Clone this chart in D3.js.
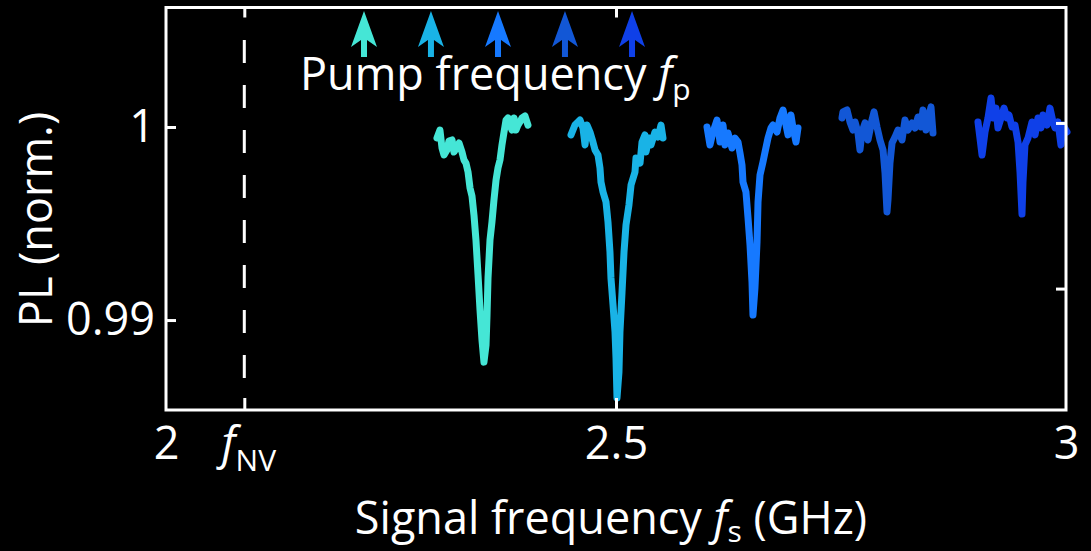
<!DOCTYPE html>
<html>
<head>
<meta charset="utf-8">
<script src="https://cdn.jsdelivr.net/npm/d3@7"></script>
<style>
  html, body { margin: 0; padding: 0; background: #000; }
  svg { display: block; }
  text { font-family: "Open Sans", sans-serif; fill: #fff; }
</style>
</head>
<body>
<svg id="chart" width="1091" height="551"></svg>
<script>
// NV resonance and the five pump frequencies (GHz)
const fNV = 2.087;
const pumpFreqs = [2.2200, 2.2944, 2.3689, 2.4433, 2.5178];
const traceColors = ["#45e6d6", "#19b3e6", "#1679ff", "#1257d6", "#0f40e8"];

// axis ticks
const xTickValues = [2, fNV, 2.5, 3];
const xTickLabels = ["2", "NV", "2.5", "3"];
const xTopTickValues = [fNV, 2.5];
const yTickValues = [1, 0.99];
const yTickLabels = ["1", "0.99"];
const yRightTickValues = [1, 0.99];

// PL traces: signal frequency (GHz) and normalised PL
const trace1F = [2.3011, 2.3044, 2.3067, 2.3089, 2.3122, 2.3144, 2.3178, 2.3200, 2.3233, 2.3256,
  2.3289, 2.3311, 2.3333, 2.3356, 2.3378, 2.3400, 2.3422, 2.3444, 2.3467, 2.3489,
  2.3511, 2.3533, 2.3556, 2.3567, 2.3578, 2.3600, 2.3622, 2.3644, 2.3667, 2.3689,
  2.3711, 2.3733, 2.3756, 2.3778, 2.3800, 2.3822, 2.3844, 2.3867, 2.3889, 2.3911,
  2.3933, 2.3956, 2.3989, 2.4022];
const trace1PL = [0.99943, 0.99984, 0.99891, 0.99855, 0.99881, 0.99927, 0.99933, 0.99870, 0.99896, 0.99917,
  0.99870, 0.99829, 0.99813, 0.99767, 0.99684, 0.99642, 0.99544, 0.99415, 0.99233, 0.99052,
  0.98896, 0.98782, 0.98870, 0.99026, 0.99218, 0.99415, 0.99508, 0.99622, 0.99725, 0.99788,
  0.99829, 0.99907, 0.99974, 1.00036, 1.00047, 1.00010, 0.99984, 1.00047, 0.99984, 1.00010,
  1.00026, 1.00047, 1.00057, 1.00010];

const trace2F = [2.4500, 2.4544, 2.4600, 2.4633, 2.4656, 2.4678, 2.4711, 2.4744, 2.4767, 2.4800,
  2.4822, 2.4833, 2.4856, 2.4889, 2.4911, 2.4933, 2.4944, 2.4967, 2.4989, 2.5000,
  2.5011, 2.5033, 2.5044, 2.5067, 2.5089, 2.5111, 2.5144, 2.5167, 2.5211, 2.5222,
  2.5267, 2.5289, 2.5322, 2.5333, 2.5367, 2.5389, 2.5433, 2.5467, 2.5500, 2.5522];
const trace2PL = [0.99959, 1.00010, 1.00036, 0.99995, 0.99907, 1.00010, 0.99974, 0.99922, 0.99881, 0.99855,
  0.99788, 0.99715, 0.99663, 0.99611, 0.99508, 0.99352, 0.99218, 0.99078, 0.98938, 0.98803,
  0.98596, 0.98731, 0.98938, 0.99145, 0.99352, 0.99492, 0.99596, 0.99699, 0.99767, 0.99839,
  0.99813, 0.99922, 0.99959, 0.99870, 0.99943, 0.99907, 0.99974, 0.99948, 1.00010, 0.99943];

const trace3F = [2.6011, 2.6044, 2.6078, 2.6122, 2.6156, 2.6189, 2.6211, 2.6244, 2.6289, 2.6322,
  2.6356, 2.6378, 2.6400, 2.6411, 2.6444, 2.6467, 2.6489, 2.6511, 2.6522, 2.6544,
  2.6567, 2.6578, 2.6600, 2.6633, 2.6656, 2.6689, 2.6722, 2.6744, 2.6789, 2.6822,
  2.6856, 2.6889, 2.6911, 2.6944, 2.6967, 2.7000, 2.7022];
const trace3PL = [1.00000, 0.99907, 0.99974, 1.00036, 0.99922, 1.00010, 0.99907, 0.99969, 0.99891, 0.99943,
  0.99922, 0.99865, 0.99803, 0.99715, 0.99663, 0.99529, 0.99389, 0.99197, 0.99026, 0.99166,
  0.99404, 0.99611, 0.99751, 0.99819, 0.99870, 0.99943, 0.99995, 1.00010, 0.99974, 1.00047,
  1.00088, 1.00010, 0.99959, 1.00062, 0.99995, 0.99922, 0.99995];

const trace4F = [2.7511, 2.7522, 2.7567, 2.7600, 2.7633, 2.7656, 2.7689, 2.7711, 2.7733, 2.7767,
  2.7800, 2.7844, 2.7867, 2.7900, 2.7933, 2.7967, 2.7989, 2.8011, 2.8022, 2.8044,
  2.8067, 2.8100, 2.8133, 2.8178, 2.8211, 2.8244, 2.8289, 2.8322, 2.8356, 2.8389,
  2.8411, 2.8444, 2.8467, 2.8500, 2.8522];
const trace4PL = [1.00047, 1.00078, 1.00088, 1.00026, 0.99984, 1.00026, 0.99969, 0.99881, 0.99974, 1.00021,
  0.99933, 1.00036, 1.00078, 1.00000, 0.99933, 0.99881, 0.99762, 0.99560, 0.99622, 0.99813,
  0.99917, 0.99948, 0.99984, 0.99933, 1.00036, 0.99984, 1.00021, 0.99995, 1.00052, 1.00000,
  1.00088, 0.99984, 1.00036, 1.00104, 0.99969];

const trace5F = [2.9022, 2.9044, 2.9067, 2.9100, 2.9133, 2.9167, 2.9189, 2.9222, 2.9244, 2.9289,
  2.9311, 2.9344, 2.9367, 2.9400, 2.9433, 2.9467, 2.9489, 2.9511, 2.9522, 2.9544,
  2.9578, 2.9622, 2.9656, 2.9689, 2.9722, 2.9744, 2.9789, 2.9822, 2.9856, 2.9878,
  2.9911, 2.9944, 2.9967, 3.0011];
const trace5PL = [1.00026, 0.99943, 0.99855, 0.99974, 1.00047, 1.00150, 1.00047, 1.00098, 0.99995, 1.00062,
  1.00098, 1.00047, 1.00062, 1.00000, 1.00010, 0.99922, 0.99767, 0.99549, 0.99715, 0.99907,
  0.99943, 1.00026, 0.99959, 1.00047, 0.99995, 1.00062, 1.00010, 1.00098, 1.00026, 0.99995,
  1.00026, 0.99907, 1.00010, 0.99974];

const traces = [
  { f: trace1F, pl: trace1PL },
  { f: trace2F, pl: trace2PL },
  { f: trace3F, pl: trace3PL },
  { f: trace4F, pl: trace4PL },
  { f: trace5F, pl: trace5PL }
];

// layout
const svg = d3.select("#chart");
const plotLeft = 166, plotRight = 1066, plotTop = 7.5, plotBottom = 410;

const x = d3.scaleLinear().domain([2, 3]).range([plotLeft, plotRight]);
const y = d3.scaleLinear().domain([0.98534, 1.00619]).range([plotBottom, plotTop]);
// unlabelled twin axis on the right
const yRight = d3.scaleLinear().domain([0.98267, 1.00697]).range([plotBottom, plotTop]);

// dashed marker at the NV frequency
svg.append("line")
  .attr("x1", x(fNV)).attr("x2", x(fNV))
  .attr("y1", plotTop + 32.5).attr("y2", plotBottom - 18)
  .attr("stroke", "#fff").attr("stroke-width", 3)
  .attr("stroke-dasharray", "23 22");

// traces
const line = d3.line().x(d => x(d[0])).y(d => y(d[1]));
traces.forEach((t, i) => {
  svg.append("path")
    .datum(d3.zip(t.f, t.pl))
    .attr("d", line)
    .attr("fill", "none")
    .attr("stroke", traceColors[i])
    .attr("stroke-width", 7)
    .attr("stroke-linejoin", "round")
    .attr("stroke-linecap", "round");
});

// frame
svg.append("rect")
  .attr("x", plotLeft).attr("y", plotTop)
  .attr("width", plotRight - plotLeft).attr("height", plotBottom - plotTop)
  .attr("fill", "none").attr("stroke", "#fff").attr("stroke-width", 3);

const tickStyle = g => {
  g.select(".domain").remove();
  g.selectAll(".tick line").attr("stroke", "#fff").attr("stroke-width", 3);
};

// bottom axis
const gx = svg.append("g")
  .attr("transform", `translate(0,${plotBottom})`)
  .call(d3.axisBottom(x).tickValues(xTickValues).tickSizeInner(-12).tickSizeOuter(0)
    .tickFormat((d, i) => xTickLabels[i]))
  .call(tickStyle);
gx.selectAll(".tick").filter(d => d === 2 || d === 3).select("line").remove();
gx.selectAll(".tick text")
  .attr("y", 49).attr("dy", null)
  .style("font-size", "45px").style("font-family", "Open Sans").attr("fill", "#fff");
// f_NV label: italic f with subscript
gx.selectAll(".tick").filter(d => d === fNV).select("text")
  .text(null)
  .attr("x", 4)
  .call(t => {
    t.append("tspan").text("f").style("font-style", "italic");
    t.append("tspan").text("NV").attr("dy", 12).style("font-size", "30px");
  });

// top axis (ticks only)
svg.append("g")
  .attr("transform", `translate(0,${plotTop})`)
  .call(d3.axisTop(x).tickValues(xTopTickValues).tickSizeInner(-10).tickSizeOuter(0).tickFormat(""))
  .call(tickStyle);

// left axis
const gy = svg.append("g")
  .attr("transform", `translate(${plotLeft},0)`)
  .call(d3.axisLeft(y).tickValues(yTickValues).tickSizeInner(-10).tickSizeOuter(0)
    .tickPadding(11).tickFormat((d, i) => yTickLabels[i]))
  .call(tickStyle);
gy.selectAll(".tick text")
  .style("font-size", "45px").style("font-family", "Open Sans").attr("fill", "#fff");

// right axis (ticks only)
svg.append("g")
  .attr("transform", `translate(${plotRight},0)`)
  .call(d3.axisRight(yRight).tickValues(yRightTickValues).tickSizeInner(-10).tickSizeOuter(0).tickFormat(""))
  .call(tickStyle);

// axis titles
const xt = svg.append("text")
  .attr("x", 611).attr("y", 534)
  .attr("text-anchor", "middle")
  .style("font-size", "45px");
xt.append("tspan").text("Signal frequency ");
xt.append("tspan").text("f").style("font-style", "italic");
xt.append("tspan").text("s").attr("dy", 8).style("font-size", "30px");
xt.append("tspan").text(" (GHz)").attr("dy", -8);

svg.append("text")
  .attr("transform", `translate(52,${(127 + 320) / 2 - 4}) rotate(-90)`)
  .attr("text-anchor", "middle")
  .style("font-size", "45px")
  .text("PL (norm.)");

// pump arrows
const arrowShape = cx => {
  const p = d3.path();
  p.moveTo(cx, 11);
  p.lineTo(cx + 13, 47);
  p.lineTo(cx + 3, 40);
  p.lineTo(cx + 3, 57);
  p.lineTo(cx - 3, 57);
  p.lineTo(cx - 3, 40);
  p.lineTo(cx - 13, 47);
  p.closePath();
  return p.toString();
};
svg.selectAll(".pump")
  .data(pumpFreqs)
  .join("path")
  .attr("class", "pump")
  .attr("d", d => arrowShape(x(d)))
  .attr("fill", (d, i) => traceColors[i]);

const pt = svg.append("text")
  .attr("x", 300).attr("y", 90)
  .style("font-size", "45px");
pt.append("tspan").text("Pump frequency ");
pt.append("tspan").text("f").style("font-style", "italic");
pt.append("tspan").text("p").attr("dy", 10).style("font-size", "30px");
</script>
</body>
</html>
